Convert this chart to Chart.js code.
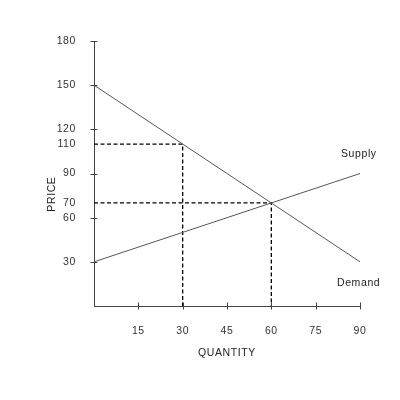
<!DOCTYPE html>
<html>
<head>
<meta charset="utf-8">
<script src="https://cdn.jsdelivr.net/npm/chart.js@4.4.1/dist/chart.umd.min.js"></script>
<style>
html,body{margin:0;padding:0;background:#fff;}
#wrap{width:400px;height:400px;}
</style>
</head>
<body>
<div id="wrap"><canvas id="c" width="400" height="400"></canvas></div>
<script>
const demandQty = [0, 90];
const demandPrice = [150, 30];
const supplyQty = [0, 90];
const supplyPrice = [30, 90];
const ceilingQty = 30, ceilingPrice = 110;
const eqQty = 60, eqPrice = 70;
const yTickLabels = [30, 60, 70, 90, 110, 120, 150, 180];
const yTickMarks = [30, 60, 90, 120, 150, 180];
const xTickLabels = [15, 30, 45, 60, 75, 90];
const xTickMarks = [15, 30, 45, 60, 75, 90];

const FONT = 'Arial, "Liberation Sans", sans-serif';
const FS = 10.5;
const toPts = (xs, ys) => xs.map((x, i) => ({x: x, y: ys[i]}));

const spacingPlugin = {
  id: 'spacing',
  beforeDraw(chart) { chart.ctx.letterSpacing = '0.6px'; }
};

const tickPlugin = {
  id: 'tickmarks',
  afterDraw(chart) {
    const ctx = chart.ctx, xs = chart.scales.x, ys = chart.scales.y;
    const ca = chart.chartArea;
    ctx.save();
    ctx.strokeStyle = '#444';
    ctx.lineWidth = 1;
    ctx.beginPath();
    yTickMarks.forEach(v => {
      const p = Math.round(ys.getPixelForValue(v)) + 0.5;
      ctx.moveTo(ca.left - 3.5, p); ctx.lineTo(ca.left + 3.5, p);
    });
    xTickMarks.forEach(v => {
      const p = Math.round(xs.getPixelForValue(v)) + 0.5;
      ctx.moveTo(p, ca.bottom - 3.5); ctx.lineTo(p, ca.bottom + 3.5);
    });
    ctx.stroke();
    ctx.letterSpacing = '0.6px';
    ctx.fillStyle = '#222';
    ctx.font = FS + 'px ' + FONT;
    ctx.textBaseline = 'middle';
    ctx.textAlign = 'left';
    ctx.fillText('Supply', ca.right - 19, ys.getPixelForValue(103));
    ctx.fillText('Demand', ca.right - 23, ys.getPixelForValue(15.5));
    ctx.textAlign = 'center';
    ctx.fillText('QUANTITY', (ca.left + ca.right) / 2, ca.bottom + 47);
    ctx.save();
    ctx.translate(52, ys.getPixelForValue(76));
    ctx.rotate(-Math.PI / 2);
    ctx.fillText('PRICE', 0, 0);
    ctx.restore();
    ctx.restore();
  }
};

new Chart(document.getElementById('c'), {
  type: 'scatter',
  data: {
    datasets: [
      {label: 'Demand', data: toPts(demandQty, demandPrice), showLine: true, borderColor: '#555', borderWidth: 1, pointRadius: 0, clip: false},
      {label: 'Supply', data: toPts(supplyQty, supplyPrice), showLine: true, borderColor: '#555', borderWidth: 1, pointRadius: 0, clip: false},
      {label: 'ceil', data: [{x: 0, y: ceilingPrice}, {x: ceilingQty, y: ceilingPrice}, {x: ceilingQty, y: 0}], showLine: true, borderColor: '#000', borderWidth: 1.3, borderDash: [4, 2.5], pointRadius: 0, clip: false},
      {label: 'eq', data: [{x: 0, y: eqPrice}, {x: eqQty, y: eqPrice}, {x: eqQty, y: 0}], showLine: true, borderColor: '#000', borderWidth: 1.3, borderDash: [4, 2.5], pointRadius: 0, clip: false}
    ]
  },
  options: {
    responsive: false,
    animation: false,
    devicePixelRatio: 1,
    layout: {padding: {top: 41, right: 40, bottom: 0, left: 0}},
    plugins: {legend: {display: false}, tooltip: {enabled: false}},
    scales: {
      x: {
        type: 'linear', min: 0, max: 90,
        afterBuildTicks: s => { s.ticks = xTickLabels.map(v => ({value: v})); },
        afterFit: s => { s.height = 94; },
        grid: {drawOnChartArea: false, drawTicks: false},
        border: {display: true, color: '#444', width: 1},
        ticks: {padding: 19, color: '#333', font: {family: FONT, size: FS}, maxRotation: 0, autoSkip: false}
      },
      y: {
        type: 'linear', min: 0, max: 180,
        afterBuildTicks: s => { s.ticks = yTickLabels.map(v => ({value: v})); },
        afterFit: s => { s.width = 94; },
        grid: {drawOnChartArea: false, drawTicks: false},
        border: {display: true, color: '#444', width: 1},
        ticks: {padding: 18, color: '#333', font: {family: FONT, size: FS}, autoSkip: false}
      }
    }
  },
  plugins: [spacingPlugin, tickPlugin]
});
</script>
</body>
</html>
